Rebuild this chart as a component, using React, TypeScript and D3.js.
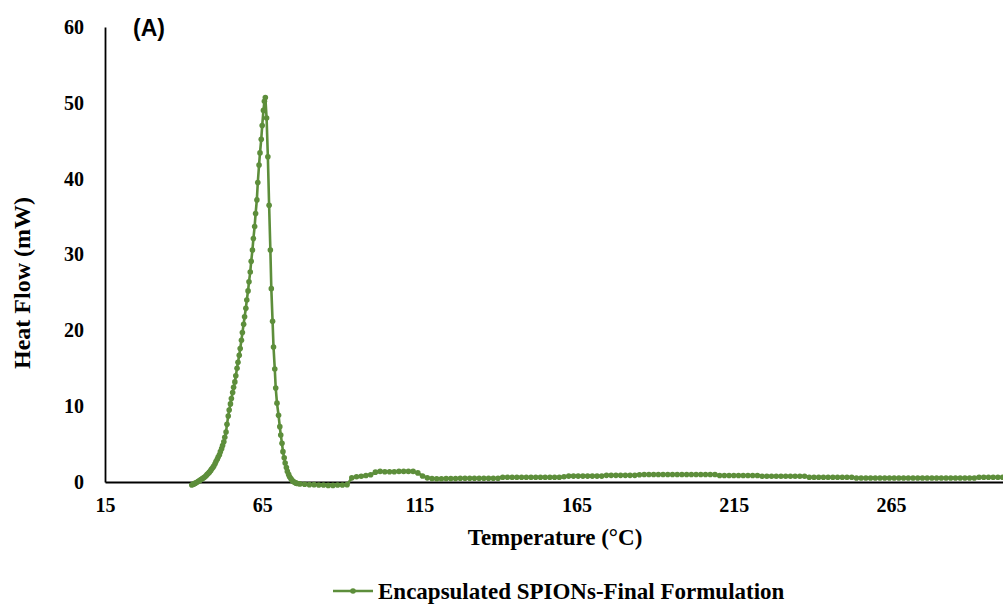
import React, { useRef, useEffect } from 'react';
import * as d3 from 'd3';

// DSC curve, peak region (dense sampling)
const peakTemps = [
  42.6, 43.0, 43.3, 43.7, 44.0, 44.4, 44.7, 45.1, 45.4, 45.8,
  46.1, 46.5, 46.8, 47.2, 47.5, 47.9, 48.2, 48.6, 48.9, 49.3,
  49.6, 50.0, 50.3, 50.7, 51.0, 51.4, 51.7, 52.1, 52.4, 52.8,
  53.1, 53.5, 53.8, 54.2, 54.5, 54.9, 55.2, 55.6, 55.9, 56.3,
  56.6, 57.0, 57.3, 57.7, 58.0, 58.4, 58.7, 59.1, 59.4, 59.8,
  60.1, 60.5, 60.8, 61.2, 61.5, 61.9, 62.2, 62.6, 62.9, 63.3,
  63.6, 64.0, 64.3, 64.7, 65.0, 65.4, 65.7, 66.0,
  66.4, 66.8, 67.2, 67.6, 67.9, 68.3, 68.6, 69.0, 69.3, 69.7,
  70.2, 70.6, 70.9, 71.3, 71.6, 72.0, 72.3, 72.7, 73.0, 73.4,
  73.7, 74.1, 74.4, 74.8, 75.1, 75.5, 75.8, 76.2,
];
const peakFlow = [
  -0.4, -0.3, -0.25, -0.15, -0.1, 0.0, 0.1, 0.2, 0.3, 0.4,
  0.5, 0.6, 0.7, 0.85, 1.0, 1.15, 1.3, 1.5, 1.7, 1.9,
  2.1, 2.4, 2.7, 3.0, 3.3, 3.6, 4.0, 4.4, 4.8, 5.3,
  5.9, 6.6, 7.6, 8.7, 9.5, 10.3, 11.0, 11.8, 12.5, 13.2,
  14.0, 15.0, 15.8, 16.7, 17.6, 18.7, 19.7, 20.8, 21.8, 22.9,
  24.0, 25.2, 26.4, 27.7, 29.1, 30.6, 32.1, 33.7, 35.4, 37.2,
  39.5, 41.8, 43.4, 45.2, 47.0, 49.0, 50.2, 50.7,
  48.0, 42.9, 36.5, 30.6, 25.5, 21.2, 17.8, 14.9, 12.4, 10.4,
  8.8, 7.3, 6.2, 5.1, 4.0, 3.2, 2.5, 1.9, 1.4, 1.0,
  0.7, 0.45, 0.25, 0.1, 0.0, -0.1, -0.15, -0.2,
];

// baseline region
const baseTemps = [
  77, 78.5, 80, 81.5, 83, 84.5, 86, 87.5, 89, 90.5,
  92, 93.5, 95, 96.5, 98, 99.5, 101, 102.5, 104, 105.5,
  107, 108.5, 110, 111.5, 113, 114.5, 116, 117.5, 119, 120.5,
  122, 123.5, 125, 126.5, 128, 129.5, 131, 132.5, 134, 135.5,
  137, 138.5, 140, 141.5, 143, 144.5, 146, 147.5, 149, 150.5,
  152, 153.5, 155, 156.5, 158, 159.5, 161, 162.5, 164, 165.5,
  167, 168.5, 170, 171.5, 173, 174.5, 176, 177.5, 179, 180.5,
  182, 183.5, 185, 186.5, 188, 189.5, 191, 192.5, 194, 195.5,
  197, 198.5, 200, 201.5, 203, 204.5, 206, 207.5, 209, 210.5,
  212, 213.5, 215, 216.5, 218, 219.5, 221, 222.5, 224, 225.5,
  227, 228.5, 230, 231.5, 233, 234.5, 236, 237.5, 239, 240.5,
  242, 243.5, 245, 246.5, 248, 249.5, 251, 252.5, 254, 255.5,
  257, 258.5, 260, 261.5, 263, 264.5, 266, 267.5, 269, 270.5,
  272, 273.5, 275, 276.5, 278, 279.5, 281, 282.5, 284, 285.5,
  287, 288.5, 290, 291.5, 293, 294.5, 296, 297.5, 299, 300.5,
];
const baseFlow = [
  -0.25, -0.3, -0.35, -0.35, -0.4, -0.4, -0.45, -0.45, -0.4, -0.4,
  -0.35, 0.55, 0.7, 0.75, 0.85, 0.95, 1.3, 1.4, 1.35, 1.35,
  1.35, 1.4, 1.4, 1.4, 1.4, 1.2, 0.8, 0.55, 0.45, 0.42,
  0.42, 0.45, 0.45, 0.45, 0.5, 0.5, 0.5, 0.5, 0.5, 0.5,
  0.5, 0.5, 0.5, 0.62, 0.62, 0.62, 0.62, 0.62, 0.62, 0.62,
  0.62, 0.62, 0.62, 0.62, 0.62, 0.62, 0.7, 0.78, 0.78, 0.78,
  0.78, 0.78, 0.78, 0.78, 0.78, 0.88, 0.88, 0.88, 0.88, 0.88,
  0.88, 0.88, 0.95, 0.98, 0.98, 0.98, 0.98, 0.98, 0.98, 0.98,
  0.98, 0.98, 0.98, 0.98, 0.98, 0.98, 0.98, 0.98, 0.98, 0.85,
  0.85, 0.85, 0.85, 0.85, 0.85, 0.85, 0.85, 0.85, 0.75, 0.75,
  0.75, 0.75, 0.75, 0.75, 0.75, 0.75, 0.75, 0.75, 0.62, 0.62,
  0.62, 0.62, 0.62, 0.62, 0.62, 0.62, 0.62, 0.62, 0.52, 0.52,
  0.52, 0.52, 0.52, 0.52, 0.52, 0.52, 0.52, 0.52, 0.52, 0.52,
  0.52, 0.52, 0.52, 0.52, 0.52, 0.52, 0.52, 0.52, 0.52, 0.52,
  0.52, 0.52, 0.52, 0.52, 0.62, 0.62, 0.62, 0.62, 0.62, 0.62,
];

const xTicks = [15, 65, 115, 165, 215, 265];
const yTicks = [0, 10, 20, 30, 40, 50, 60];
const seriesName = 'Encapsulated SPIONs-Final Formulation';
const panelLabel = '(A)';

const GREEN = '#5d8e3b';
const SERIF = '"Liberation Serif", "Times New Roman", serif';

const App = () => {
  const svgRef = useRef(null);

  useEffect(() => {
    const svg = d3.select(svgRef.current);
    svg.selectAll('*').remove();

    const left = 105, top = 27, bottom = 482;

    // axis runs off the right edge of the picture, as in the source figure
    const x = d3.scaleLinear().domain([15, 315]).range([left, left + 300 * 3.144]);
    const y = d3.scaleLinear().domain([0, 60]).range([bottom, top]);

    const data = peakTemps.map((t, i) => ({ t, v: peakFlow[i] }))
      .concat(baseTemps.map((t, i) => ({ t, v: baseFlow[i] })));

    // y axis
    const yAxis = svg.append('g')
      .attr('transform', `translate(${left},0)`)
      .call(d3.axisLeft(y).tickValues(yTicks).tickSize(0).tickPadding(21));
    yAxis.select('.domain').attr('stroke', '#000').attr('stroke-width', 1.8);
    yAxis.selectAll('text')
      .attr('font-family', SERIF)
      .attr('font-weight', 'bold')
      .attr('font-size', 20)
      .attr('fill', '#000');

    // x axis
    const xAxis = svg.append('g')
      .attr('transform', `translate(0,${bottom})`)
      .call(d3.axisBottom(x).tickValues(xTicks).tickSize(0).tickPadding(16));
    xAxis.select('.domain').attr('stroke', '#000').attr('stroke-width', 1.8);
    xAxis.selectAll('text')
      .attr('font-family', SERIF)
      .attr('font-weight', 'bold')
      .attr('font-size', 20)
      .attr('fill', '#000');

    // series line + markers
    const line = d3.line()
      .x(d => x(d.t))
      .y(d => y(d.v));

    svg.append('path')
      .datum(data)
      .attr('fill', 'none')
      .attr('stroke', GREEN)
      .attr('stroke-width', 2.6)
      .attr('stroke-linejoin', 'round')
      .attr('d', line);

    svg.selectAll('.pt')
      .data(data)
      .enter().append('circle')
      .attr('class', 'pt')
      .attr('cx', d => x(d.t))
      .attr('cy', d => y(d.v))
      .attr('r', 2.8)
      .attr('fill', GREEN);

    // axis titles
    svg.append('text')
      .attr('x', 555)
      .attr('y', 545)
      .attr('text-anchor', 'middle')
      .attr('font-family', SERIF)
      .attr('font-weight', 'bold')
      .attr('font-size', 23)
      .text('Temperature (°C)');

    svg.append('text')
      .attr('transform', 'translate(30,283) rotate(-90)')
      .attr('text-anchor', 'middle')
      .attr('font-family', SERIF)
      .attr('font-weight', 'bold')
      .attr('font-size', 24)
      .text('Heat Flow (mW)');

    // panel label
    svg.append('text')
      .attr('x', 133)
      .attr('y', 36)
      .attr('font-family', '"Liberation Sans", Arial, sans-serif')
      .attr('font-weight', 'bold')
      .attr('font-size', 23)
      .text(panelLabel);

    // legend
    const lg = svg.append('g').attr('transform', 'translate(333,591)');
    lg.append('line')
      .attr('x1', 0).attr('x2', 40)
      .attr('stroke', GREEN).attr('stroke-width', 2.6);
    lg.append('circle').attr('cx', 20).attr('r', 2.8).attr('fill', GREEN);
    lg.append('text')
      .attr('x', 45)
      .attr('y', 8)
      .attr('font-family', SERIF)
      .attr('font-weight', 'bold')
      .attr('font-size', 23)
      .text(seriesName);
  }, []);

  return (
    <svg
      ref={svgRef}
      width={1003}
      height={604}
      style={{ position: 'absolute', left: 0, top: 0, background: '#fff' }}
    />
  );
};

export default App;
